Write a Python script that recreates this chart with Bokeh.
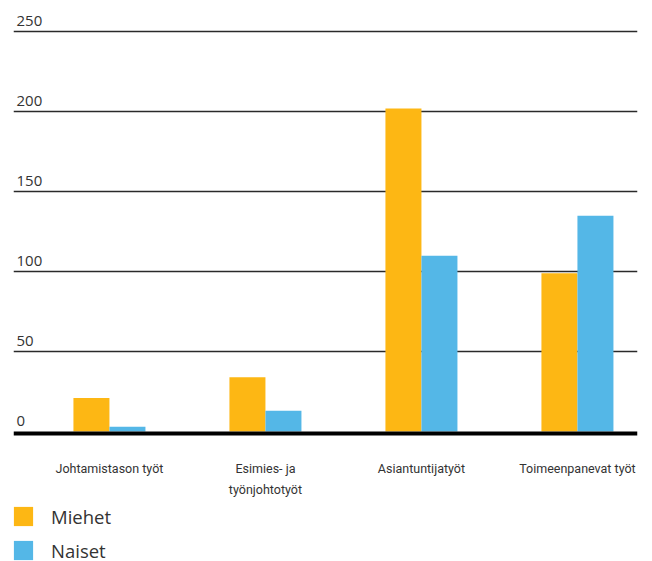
from bokeh.plotting import figure
from bokeh.models import ColumnDataSource, FixedTicker, Legend, LegendItem, Range1d, Span
from bokeh.transform import dodge
from bokeh.core.properties import value
from bokeh.embed import file_html
from bokeh.resources import INLINE

categories = ["Johtamistason työt", "Esimies- ja\ntyönjohtotyöt", "Asiantuntijatyöt", "Toimeenpanevat työt"]
miehet = [21, 34, 202, 99]
naiset = [3, 13, 110, 135]
y_ticks = [0, 50, 100, 150, 200, 250]
series_names = ["Miehet", "Naiset"]
colors = ["#FDB714", "#54B7E7"]

idx = list(range(len(categories)))
src = ColumnDataSource(dict(x=idx, miehet=miehet, naiset=naiset))

p = figure(width=652, height=561, output_backend="svg", toolbar_location=None,
           x_range=Range1d(-0.615, 3.385), y_range=Range1d(-81.25, 264.56),
           min_border_left=13, min_border_right=15, min_border_top=8, min_border_bottom=0)
p.outline_line_color = None
p.xgrid.grid_line_color = None
p.ygrid.ticker = FixedTicker(ticks=[t for t in y_ticks if t > 0])
p.ygrid.grid_line_color = "#2a2a2a"
p.ygrid.grid_line_width = 1.3
p.xaxis.visible = False
p.yaxis.visible = False

bw = 0.2308
r1 = p.vbar(x=dodge("x", -bw / 2, range=p.x_range), top="miehet", width=bw, bottom=0,
            source=src, fill_color=colors[0], line_color=None)
r2 = p.vbar(x=dodge("x", bw / 2, range=p.x_range), top="naiset", width=bw, bottom=0,
            source=src, fill_color=colors[1], line_color=None)

# thick baseline just under zero
p.add_layout(Span(location=-1.25, dimension="width", line_color="#000000", line_width=4))

# y tick labels above the grid lines
tsrc = ColumnDataSource(dict(y=y_ticks, t=[str(v) for v in y_ticks],
                             x=[p.x_range.start] * len(y_ticks)))
p.text(x="x", y="y", text="t", source=tsrc, x_offset=3, y_offset=-6,
       text_baseline="bottom", text_align="left", text_font=value("Open Sans"),
       text_font_size="15px", text_color="#333333")

# category labels under the baseline
csrc = ColumnDataSource(dict(x=idx, y=[0] * len(idx), t=categories))
p.text(x="x", y="y", text="t", source=csrc, y_offset=29,
       text_baseline="top", text_align="center", text_font=value("Roboto"),
       text_font_size="12.5px", text_color="#333333", text_line_height=1.4)

legend = Legend(items=[LegendItem(label=series_names[0], renderers=[r1]),
                       LegendItem(label=series_names[1], renderers=[r2])],
                orientation="vertical", location=(-2, -1.5),
                glyph_width=24, glyph_height=24, label_height=24, spacing=9,
                label_standoff=16, padding=0, margin=0,
                label_text_font="Open Sans", label_text_font_size="18.5px",
                label_text_color="#333333", border_line_color=None,
                background_fill_color=None)
p.add_layout(legend, "center")

open("out.html", "w").write(file_html(p, INLINE))
